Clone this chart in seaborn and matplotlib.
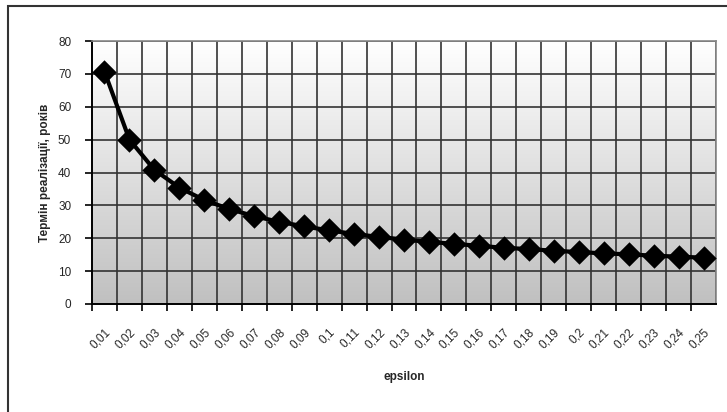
import numpy as np
import pandas as pd
import matplotlib
matplotlib.use('Agg')
import matplotlib.pyplot as plt
import seaborn as sns

# values
eps_labels = ['0,01', '0,02', '0,03', '0,04', '0,05', '0,06', '0,07', '0,08', '0,09', '0,1',
              '0,11', '0,12', '0,13', '0,14', '0,15', '0,16', '0,17', '0,18', '0,19', '0,2',
              '0,21', '0,22', '0,23', '0,24', '0,25']
term = [70.7, 50.0, 40.8, 35.4, 31.6, 28.9, 26.7, 25.0, 23.6, 22.4,
        21.3, 20.4, 19.6, 18.9, 18.3, 17.7, 17.1, 16.7, 16.2, 15.8,
        15.4, 15.1, 14.7, 14.4, 14.1]
y_ticks = [0, 10, 20, 30, 40, 50, 60, 70, 80]

df = pd.DataFrame({'epsilon': eps_labels, 'term': term})

sns.set_style('white')
plt.rcParams['font.family'] = ['Liberation Sans', 'DejaVu Sans']

fig = plt.figure(figsize=(7.27, 4.12), dpi=100)
ax = fig.add_axes([92 / 727, 1 - 304 / 412, (716 - 92) / 727, (304 - 41) / 412])

# outer chart frame
fig.patches.append(plt.Rectangle((8 / 727, -0.05), 1.2, 1 - 6 / 412 + 0.05,
                                 transform=fig.transFigure, fill=False,
                                 edgecolor='#333333', linewidth=1.5))

sns.pointplot(data=df, x='epsilon', y='term', ax=ax, color='black', markers='D',
              markersize=10, linewidth=3, zorder=5)

n = len(eps_labels)
ax.set_xlim(-0.5, n - 0.5)
ax.set_ylim(0, 80)

# gradient background white -> gray
grad = np.linspace(0, 1, 256).reshape(-1, 1)
ax.imshow(grad, extent=(-0.5, n - 0.5, 0, 80), aspect='auto', origin='upper',
          cmap=matplotlib.colors.LinearSegmentedColormap.from_list('g', ['#ffffff', '#c0c0c0']),
          zorder=0)

for y in y_ticks[1:]:
    ax.axhline(y, color='#333333', linewidth=1.2, zorder=1)
for i in range(1, n + 1):
    ax.axvline(i - 0.5, color='#333333', linewidth=1.2, zorder=1)

ax.set_yticks(y_ticks)
ax.set_xticks(np.arange(n) - 0.5, minor=True)
ax.set_xticks(np.arange(n))
ax.set_xticklabels(eps_labels, rotation=45, ha='right', rotation_mode='anchor', fontsize=8.5)
ax.tick_params(axis='x', which='major', length=0, pad=16)
ax.tick_params(axis='x', which='minor', length=5, width=1.2, color='black', direction='out', bottom=True)
ax.tick_params(axis='y', length=5, width=1.2, color='black', direction='out', left=True,
               labelsize=8.5, pad=10)

for s in ['left', 'bottom']:
    ax.spines[s].set_color('black')
    ax.spines[s].set_linewidth(1.4)
for s in ['top', 'right']:
    ax.spines[s].set_color('#888888')
    ax.spines[s].set_linewidth(1.2)

ax.set_xlabel('epsilon', fontsize=8.5, fontweight='bold', labelpad=14)
ax.set_ylabel('Термін реалізації, років', fontsize=8.5, fontweight='bold', labelpad=5)

fig.savefig('out.png', dpi=100)
